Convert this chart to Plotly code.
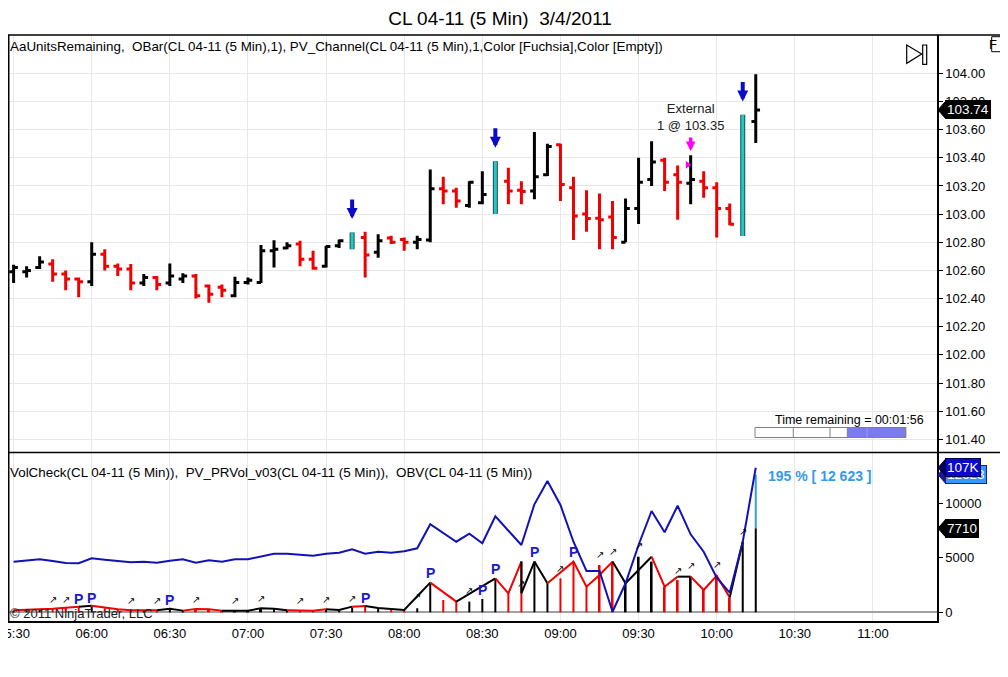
import pandas as pd
import plotly.graph_objects as go
from plotly.subplots import make_subplots

#Barras de 5 minutos CL 04-11 del 3/4/2011
horas = pd.date_range("2011-03-04 05:30", periods=58, freq="5min")

apertura = [102.59, 102.59, 102.62, 102.645, 102.575, 102.54, 102.52, 102.715, 102.63, 102.61,
            102.51, 102.55, 102.51, 102.54, 102.56, 102.49, 102.48, 102.42, 102.515, 102.515,
            102.74, 102.76, 102.787, 102.68, 102.63, 102.775, 102.82, 102.834, 102.73, 102.83,
            102.82, 102.80, 102.817, 103.18, 103.164, 103.062, 103.08, 103.187, 103.234, 103.17,
            103.164, 103.28, 103.493, 103.187, 103.00, 102.97, 102.98, 102.80, 103.04, 103.246,
            103.383, 103.28, 103.22, 103.234, 103.187, 103.04, 102.935, 103.658]
maximo = [102.64, 102.63, 102.70, 102.68, 102.60, 102.55, 102.80, 102.75, 102.65, 102.645,
          102.575, 102.56, 102.65, 102.58, 102.575, 102.50, 102.50, 102.555, 102.55, 102.78,
          102.815, 102.80, 102.81, 102.74, 102.775, 102.82, 102.87, 102.874, 102.857, 102.846,
          102.834, 102.846, 103.317, 103.265, 103.187, 103.234, 103.305, 103.376, 103.33, 103.234,
          103.583, 103.50, 103.50, 103.265, 103.17, 103.147, 103.093, 103.11, 103.40, 103.517,
          103.40, 103.345, 103.418, 103.305, 103.227, 103.076, 103.705, 103.993]
minimo = [102.51, 102.55, 102.61, 102.52, 102.46, 102.41, 102.49, 102.60, 102.56, 102.46,
          102.49, 102.46, 102.49, 102.51, 102.40, 102.37, 102.41, 102.41, 102.50, 102.51,
          102.62, 102.75, 102.63, 102.605, 102.62, 102.76, 102.75, 102.55, 102.69, 102.787,
          102.74, 102.75, 102.80, 103.07, 103.046, 103.046, 103.07, 103.00, 103.07, 103.07,
          103.105, 103.27, 103.093, 102.817, 102.874, 102.751, 102.751, 102.80, 102.93, 103.20,
          103.164, 102.96, 103.07, 103.116, 102.834, 102.92, 102.845, 103.505]
cierre = [102.62, 102.60, 102.66, 102.575, 102.54, 102.52, 102.715, 102.63, 102.61, 102.51,
          102.55, 102.50, 102.56, 102.56, 102.42, 102.43, 102.46, 102.515, 102.53, 102.74,
          102.75, 102.775, 102.68, 102.615, 102.77, 102.81, 102.835, 102.71, 102.81, 102.80,
          102.80, 102.82, 103.18, 103.164, 103.093, 103.227, 103.14, 103.25, 103.164, 103.16,
          103.265, 103.48, 103.21, 102.987, 102.968, 102.96, 102.834, 103.04, 103.227, 103.37,
          103.227, 103.227, 103.245, 103.187, 103.04, 102.928, 103.658, 103.74]

#Barras de senal (cian, flecha azul)
senal = [26, 37, 56]
#Ejecucion externa
barra_ejec = 52
precio_ejec = 103.35

#Volumen por barra y proyeccion de la ultima
volumen = [150, 190, 240, 300, 380, 450, 520, 380, 240, 160,
           170, 160, 300, 140, 270, 240, 140, 160, 140, 330,
           300, 160, 140, 140, 240, 190, 450, 520, 370, 310,
           210, 370, 2720, 1130, 980, 980, 1220, 3120, 1740, 4650,
           4650, 2660, 3120, 4650, 2350, 4340, 4650, 2660, 5100, 4650,
           2350, 2960, 3270, 2050, 3360, 1350, 6480, 7710]
proyeccion = 12623
porcentaje = 195

#Linea PV_PRVol (indices de barra, valor, color de cada tramo)
zz_idx = list(range(0, 40)) + [39] + list(range(40, 57))
zz_val = [183, 214, 275, 336, 428, 520, 611, 428, 275, 183,
          183, 183, 336, 153, 306, 275, 153, 183, 153, 367,
          336, 183, 153, 153, 275, 214, 520, 581, 397, 306,
          214, 1470, 2720, 1870, 980, 1710, 2420, 3120, 1740, 4650,
          1740, 4650, 2660, 3670, 4650, 2350, 3420, 4650, 2660, 3880,
          5100, 2350, 3270, 3270, 2050, 3360, 1350, 6480]
zz_col = "rrrrrkrrrrrkkrrrkkkkkrrrkkrkkkkkrrkkkrrkkkrrrrrkkkrrkrrrk"

#OBV en miles
obv = [100.30, 100.37, 100.47, 100.35, 100.21, 100.19, 100.54, 100.44, 100.35, 100.26,
       100.30, 100.23, 100.37, 100.47, 100.23, 100.40, 100.30, 100.47, 100.47, 100.65,
       100.86, 100.86, 100.79, 100.72, 100.86, 100.93, 101.17, 100.86, 101.00, 100.93,
       101.03, 101.24, 102.92, 102.31, 101.70, 102.26, 101.59, 103.48, 102.47, 101.47,
       104.32, 105.95, 104.27, 101.70, 99.65, 99.65, 96.80, 98.79, 101.47, 103.85,
       102.36, 104.22, 102.22, 101.00, 99.18, 98.13, 101.70, 106.88]

#Marcas P y flechas pequenas
p_idx = [5, 6, 12, 27, 32, 36, 37, 40, 43]
p_nivel = [1220, 1340, 1130, 1340, 3630, 2045, 3970, 5560, 5560]
fl_idx = [3, 4, 9, 11, 14, 17, 19, 22, 24, 26, 31, 35, 39, 42, 45, 46, 48, 51, 52, 54, 56]
fl_nivel = [1130, 1130, 1100, 1040, 1190, 1100, 1280, 1100, 1220, 1280, 1430, 2045, 2660,
            4030, 5320, 5560, 6170, 3880, 4250, 4400, 7390]

#Marcas del eje de precios
precios_eje = [101.4, 101.6, 101.8, 102.0, 102.2, 102.4, 102.6, 102.8, 103.0, 103.2, 103.4, 103.6, 103.8, 104.0]

NEGRO = '#000000'
ROJO = '#f00000'
CIAN = '#22c8c8'
AZUL = '#1212b4'
FUENTE = 'Liberation Sans, Arial, sans-serif'

#Geometria: pixeles de pantalla (la pagina agrega 8 px de margen)
OFF = 8
X_EJE = 937
TOP, BOTTOM = 35, 621
ALTO = BOTTOM - TOP
ANCHO_PLOT = X_EJE - OFF
def py(y):
    return (BOTTOM - y) / ALTO
def px(x):
    return (x - OFF) / ANCHO_PLOT

fig = make_subplots(rows=2, cols=1, shared_xaxes=True, vertical_spacing=0,
                    row_heights=[417.5, 168.5], specs=[[{}], [{"secondary_y": True}]])

def tomar(lista, idx):
    return [lista[i] for i in idx]

#Barras normales
normal = [i for i in range(len(horas)) if i not in senal]
fig.add_trace(go.Ohlc(x=list(horas[normal]), open=tomar(apertura, normal), high=tomar(maximo, normal),
                      low=tomar(minimo, normal), close=tomar(cierre, normal),
                      increasing_line_color=NEGRO, decreasing_line_color=ROJO,
                      line_width=3, tickwidth=0.33, hoverinfo='skip'), row=1, col=1)

#Barras de senal con borde oscuro
gap = min(b - a for a, b in zip(senal[:-1], senal[1:]))
for color, ancho in [('#1d4f4f', 5), (CIAN, 3)]:
    fig.add_trace(go.Ohlc(x=list(horas[senal]), open=tomar(apertura, senal), high=tomar(maximo, senal),
                          low=tomar(minimo, senal), close=tomar(cierre, senal),
                          increasing_line_color=color, decreasing_line_color=color,
                          line_width=ancho, tickwidth=0.33 / gap, hoverinfo='skip'), row=1, col=1)

#Ejecucion (triangulo magenta)
fig.add_trace(go.Scatter(x=[horas[barra_ejec] - pd.Timedelta(seconds=70)], y=[precio_ejec], mode='markers',
                         marker=dict(symbol='triangle-right', size=7, color='#ff00ff'), hoverinfo='skip'),
              row=1, col=1)

#Volumen
col_vol = [NEGRO if c >= o else ROJO for o, c in zip(apertura, cierre)]
fig.add_trace(go.Bar(x=horas, y=volumen, marker_color=col_vol, marker_line_width=0, width=46000,
                     hoverinfo='skip'), row=2, col=1)
fig.add_trace(go.Bar(x=[horas[-1]], y=[proyeccion - volumen[-1]], base=[volumen[-1]],
                     marker_color='#3399ff', marker_line_width=0, width=46000, hoverinfo='skip'), row=2, col=1)

#PV_PRVol por tramos de color
zz_x = [horas[i] for i in zz_idx]
ini = 0
for j in range(1, len(zz_col) + 1):
    if j == len(zz_col) or zz_col[j] != zz_col[ini]:
        fig.add_trace(go.Scatter(x=zz_x[ini:j + 1], y=zz_val[ini:j + 1], mode='lines',
                                 line=dict(color=NEGRO if zz_col[ini] == 'k' else ROJO, width=2),
                                 hoverinfo='skip'), row=2, col=1)
        ini = j

#OBV
fig.add_trace(go.Scatter(x=horas, y=obv, mode='lines', line=dict(color=AZUL, width=2), hoverinfo='skip'),
              row=2, col=1, secondary_y=True)

#Flechas de senal
for i in senal:
    fig.add_annotation(x=horas[i], y=maximo[i] + 0.095, xref='x', yref='y', ax=0, ay=-21, text='',
                       showarrow=True, arrowhead=2, arrowsize=0.55, arrowwidth=4, arrowcolor='#0a0ac8')
fig.add_annotation(x=horas[barra_ejec], y=maximo[barra_ejec] + 0.03, xref='x', yref='y', ax=0, ay=-15,
                   text='', showarrow=True, arrowhead=2, arrowsize=0.55, arrowwidth=3.5, arrowcolor='#ff00ff')
fig.add_annotation(x=horas[barra_ejec], y=103.69, xref='x', yref='y', showarrow=False,
                   text='External<br>1 @ %.2f' % precio_ejec, font=dict(size=13, color='#202020'))

#Marcas P y flechas del volumen
for i, v in zip(p_idx, p_nivel):
    fig.add_annotation(x=horas[i], y=v, xref='x2', yref='y2', showarrow=False, text='<b>P</b>',
                       font=dict(size=14, color='#1a1acc'))
for i, v in zip(fl_idx, fl_nivel):
    fig.add_annotation(x=horas[i], y=v, xref='x2', yref='y2', showarrow=False, text='\u2197',
                       font=dict(size=10, color=NEGRO, family='DejaVu Sans'))

#Textos
fig.add_annotation(x=0, y=py(47), xref='paper', yref='paper', xanchor='left', showarrow=False,
                   text='AaUnitsRemaining,\u00a0 OBar(CL 04-11 (5 Min),1), PV_Channel(CL 04-11 (5 Min),1,Color [Fuchsia],Color [Empty])',
                   font=dict(size=13.4))
fig.add_annotation(x=0, y=py(472), xref='paper', yref='paper', xanchor='left', showarrow=False,
                   text='VolCheck(CL 04-11 (5 Min)),\u00a0 PV_PRVol_v03(CL 04-11 (5 Min)),\u00a0 OBV(CL 04-11 (5 Min))',
                   font=dict(size=13.4))
fig.add_annotation(x=0, y=py(613), xref='paper', yref='paper', xanchor='left', showarrow=False,
                   text='\u00a9 2011 NinjaTrader, LLC', font=dict(size=13, color='#202020'))
fig.add_annotation(x=px(926), y=py(420), xref='paper', yref='paper', xanchor='right', showarrow=False,
                   text='Time remaining = 00:01:56', font=dict(size=12.5))
fig.add_annotation(x=px(766), y=py(476), xref='paper', yref='paper', xanchor='left', showarrow=False,
                   text='<b>%d %% [ %d %03d ]</b>' % (porcentaje, proyeccion // 1000, proyeccion % 1000),
                   font=dict(size=14, color='#3399ee'))

#Barra de tiempo restante
fig.add_shape(type='rect', xref='paper', yref='paper', x0=px(755), x1=px(905.7), y0=py(437.5), y1=py(427.5),
              line=dict(color='#808080', width=1), fillcolor='white', layer='above')
fig.add_shape(type='rect', xref='paper', yref='paper', x0=px(847.3), x1=px(905.7), y0=py(437.5), y1=py(427.5),
              line=dict(color='#808080', width=1), fillcolor='#7b7bee', layer='above')
for xd in [793.3, 830]:
    fig.add_shape(type='line', xref='paper', yref='paper', x0=px(xd), x1=px(xd), y0=py(437.5), y1=py(427.5),
                  line=dict(color='#808080', width=1), layer='above')
fig.add_shape(type='line', xref='paper', yref='paper', x0=px(867), x1=px(867), y0=py(437.5), y1=py(427.5),
              line=dict(color='#9a9af4', width=1), layer='above')

#Bordes de los paneles
fig.add_shape(type='line', xref='paper', yref='paper', x0=0, x1=px(1016), y0=1, y1=1,
              line=dict(color=NEGRO, width=1.5), layer='above')
fig.add_shape(type='line', xref='paper', yref='paper', x0=0, x1=px(1016), y0=py(452.5), y1=py(452.5),
              line=dict(color=NEGRO, width=1.5), layer='above')
fig.add_shape(type='line', xref='paper', yref='paper', x0=0.0008, x1=0.0008, y0=0, y1=1,
              line=dict(color=NEGRO, width=1.5), layer='above')

#Icono de desplazamiento y boton F
fig.add_shape(type='path', xref='paper', yref='paper',
              path='M %f,%f L %f,%f L %f,%f Z' % (px(906.7), py(45), px(906.7), py(63.3), px(921.7), py(54)),
              line=dict(color=NEGRO, width=1.2), fillcolor='white', layer='above')
fig.add_shape(type='rect', xref='paper', yref='paper', x0=px(922.7), x1=px(926.7), y0=py(64.3), y1=py(45),
              line=dict(color=NEGRO, width=1.2), fillcolor='white', layer='above')
fig.add_shape(type='rect', xref='paper', yref='paper', x0=px(991.7), x1=px(1006), y0=py(51.7), y1=py(36.7),
              line=dict(color=NEGRO, width=1), fillcolor='white', layer='above')
fig.add_annotation(x=px(998.9), y=py(44.2), xref='paper', yref='paper', showarrow=False, text='F',
                   font=dict(size=13))

#Etiquetas del eje derecho
def etiqueta(texto, valor, yref, unidad_px, fondo, borde, letra='white'):
    x0 = px(X_EJE + 1)
    x1 = px(X_EJE + 8)
    fig.add_shape(type='path', xref='paper', yref=yref,
                  path='M %f,%f L %f,%f L %f,%f Z' % (x0, valor, x1, valor + 8 * unidad_px, x1, valor - 8 * unidad_px),
                  fillcolor=borde, line=dict(color=borde, width=1), layer='above')
    fig.add_annotation(x=x1, y=valor, xref='paper', yref=yref, xanchor='left', showarrow=False, text=texto,
                       bgcolor=fondo, bordercolor=borde, borderwidth=1, borderpad=1,
                       font=dict(size=13.5, color=letra))

etiqueta('%.2f' % cierre[-1], cierre[-1], 'y', 2.965 / 417.5, NEGRO, NEGRO)
etiqueta('%d' % proyeccion, proyeccion, 'y2', 91.74, '#3399ff', '#1a1a9a')
etiqueta('%dK' % round(obv[-1]), obv[-1], 'y3', 11.8 / 168.5, '#0a0ac8', '#000050')
etiqueta('%d' % volumen[-1], volumen[-1], 'y2', 91.74, NEGRO, NEGRO)

#Todos los textos centrados en vertical sobre su y
fig.update_annotations(yanchor='middle')

#Ejes
fig.update_xaxes(domain=[0, 1], range=['2011-03-04 05:27:51', '2011-03-04 11:24:36'], showgrid=True,
                 gridcolor='#e8e8e8', gridwidth=1, tickformat='%H:%M', dtick=30 * 60 * 1000,
                 tick0='2011-03-04 05:30', rangeslider_visible=False, ticks='', zeroline=False,
                 automargin=False, ticklabeloverflow='allow', tickfont=dict(size=13, color=NEGRO))
fig.update_xaxes(showline=True, linecolor=NEGRO, linewidth=1.5, row=2, col=1)

fig.update_yaxes(row=1, col=1, side='right', range=[101.307, 104.272], tickvals=precios_eje, tickformat='.2f',
                 ticks='outside', ticklen=4, tickcolor=NEGRO, showline=True, linecolor=NEGRO, linewidth=1.5,
                 showgrid=True, gridcolor='#e8e8e8', zeroline=False, automargin=False,
                 tickfont=dict(size=13, color=NEGRO))
fig.update_yaxes(row=2, col=1, secondary_y=False, side='right', range=[-798, 14660], tickvals=[0, 5000, 10000],
                 tickformat='d', ticks='outside', ticklen=4, tickcolor=NEGRO, showline=True, linecolor=NEGRO,
                 linewidth=1.5, showgrid=False, zeroline=True, zerolinecolor='#a0a0a0', zerolinewidth=1.5,
                 automargin=False, tickfont=dict(size=13, color=NEGRO))
fig.update_yaxes(row=2, col=1, secondary_y=True, range=[96.15, 107.945], visible=False, automargin=False)

fig.update_layout(width=1008, height=677,
                  margin=dict(l=0, r=1008 - ANCHO_PLOT, t=TOP - OFF, b=677 - (BOTTOM - OFF), autoexpand=False),
                  paper_bgcolor='white', plot_bgcolor='white', showlegend=False, barmode='overlay',
                  font=dict(family=FUENTE, size=12, color=NEGRO),
                  title=dict(text='CL 04-11 (5 Min)\u00a0 3/4/2011', x=(500 - OFF) / 1008, xanchor='center',
                             y=1 - (18 - OFF) / 677, yanchor='middle', font=dict(size=19, color=NEGRO)))

fig.write_html("out.html")
